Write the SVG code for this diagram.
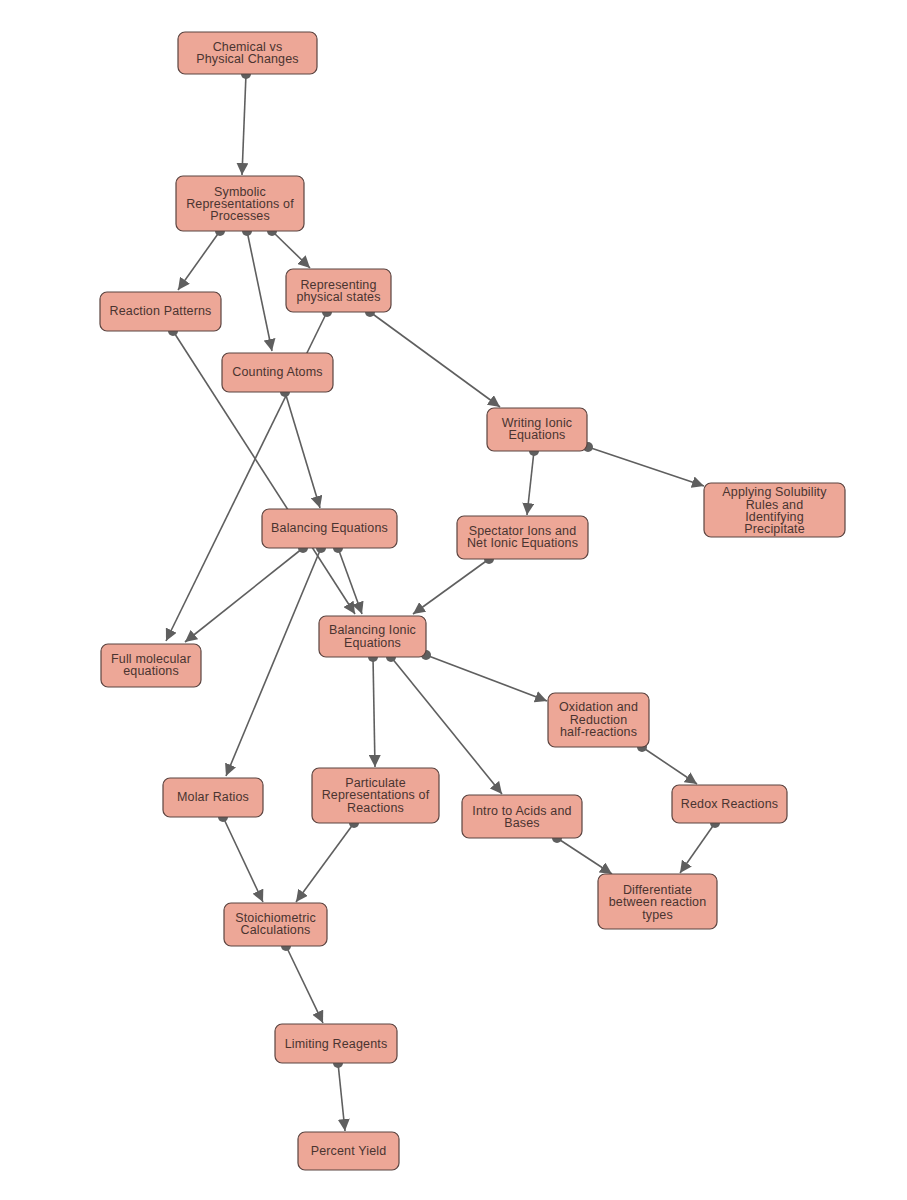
<svg xmlns="http://www.w3.org/2000/svg" width="907" height="1200" viewBox="0 0 907 1200">
<style>
.n rect{fill:#EDA797;stroke:#5b4440;stroke-width:1.2}
.n text{font-family:"Liberation Sans",Arial,sans-serif;font-size:12.5px;letter-spacing:0.15px;fill:#4a3430;text-anchor:middle}
.e line{stroke:#5f5f5f;stroke-width:1.6;marker-end:url(#ah)}
.e circle{fill:#5f5f5f}
</style>
<defs>
<marker id="ah" viewBox="0 0 10 10" refX="10" refY="5" markerUnits="userSpaceOnUse" markerWidth="12" markerHeight="12" orient="auto">
<path d="M0,0 L10,5 L0,10 z" fill="#5f5f5f"/>
</marker>
</defs>
<rect width="907" height="1200" fill="#ffffff"/>
<g id="connectors" class="e">
<line x1="246" y1="74" x2="242" y2="175"/><circle cx="246" cy="74" r="5"/>
<line x1="220" y1="231" x2="178" y2="290"/><circle cx="220" cy="231" r="5"/>
<line x1="247" y1="231" x2="272" y2="351"/><circle cx="247" cy="231" r="5"/>
<line x1="272" y1="231" x2="310" y2="268"/><circle cx="272" cy="231" r="5"/>
<line x1="173" y1="331" x2="355" y2="614"/><circle cx="173" cy="331" r="5"/>
<line x1="327" y1="312" x2="166" y2="641"/><circle cx="327" cy="312" r="5"/>
<line x1="370" y1="312" x2="500" y2="407"/><circle cx="370" cy="312" r="5"/>
<line x1="285" y1="392" x2="320" y2="508"/><circle cx="285" cy="392" r="5"/>
<line x1="534" y1="451" x2="527" y2="515"/><circle cx="534" cy="451" r="5"/>
<line x1="588" y1="447" x2="704" y2="486"/><circle cx="588" cy="447" r="5"/>
<line x1="489" y1="559" x2="413" y2="614"/><circle cx="489" cy="559" r="5"/>
<line x1="303" y1="548" x2="185" y2="642"/><circle cx="303" cy="548" r="5"/>
<line x1="321" y1="548" x2="226" y2="776"/><circle cx="321" cy="548" r="5"/>
<line x1="338" y1="548" x2="362" y2="614"/><circle cx="338" cy="548" r="5"/>
<line x1="373" y1="657" x2="375" y2="767"/><circle cx="373" cy="657" r="5"/>
<line x1="391" y1="657" x2="502" y2="794"/><circle cx="391" cy="657" r="5"/>
<line x1="426" y1="655" x2="547" y2="701"/><circle cx="426" cy="655" r="5"/>
<line x1="642" y1="747" x2="697" y2="784"/><circle cx="642" cy="747" r="5"/>
<line x1="223" y1="817" x2="263" y2="902"/><circle cx="223" cy="817" r="5"/>
<line x1="354" y1="823" x2="296" y2="902"/><circle cx="354" cy="823" r="5"/>
<line x1="557" y1="838" x2="612" y2="874"/><circle cx="557" cy="838" r="5"/>
<line x1="715" y1="823" x2="680" y2="873"/><circle cx="715" cy="823" r="5"/>
<line x1="286" y1="946" x2="323" y2="1023"/><circle cx="286" cy="946" r="5"/>
<line x1="338" y1="1063" x2="345" y2="1131"/><circle cx="338" cy="1063" r="5"/>
</g>
<g id="chem" class="n"><rect x="178" y="32" width="139" height="42" rx="7"/><text x="247.5" y="51">Chemical vs</text><text x="247.5" y="63">Physical Changes</text></g>
<g id="symb" class="n"><rect x="176" y="176" width="128" height="55" rx="7"/><text x="240" y="196">Symbolic</text><text x="240" y="208">Representations of</text><text x="240" y="220">Processes</text></g>
<g id="rp" class="n"><rect x="100" y="292" width="121" height="39" rx="7"/><text x="160.5" y="315">Reaction Patterns</text></g>
<g id="rps" class="n"><rect x="286" y="269" width="105" height="43" rx="7"/><text x="338.5" y="289">Representing</text><text x="338.5" y="301">physical states</text></g>
<g id="ca" class="n"><rect x="222" y="353" width="111" height="39" rx="7"/><text x="277.5" y="376">Counting Atoms</text></g>
<g id="wie" class="n"><rect x="487" y="408" width="100" height="43" rx="7"/><text x="537" y="427">Writing Ionic</text><text x="537" y="439">Equations</text></g>
<g id="asr" class="n"><rect x="704" y="483" width="141" height="54" rx="7"/><text x="774.5" y="496">Applying Solubility</text><text x="774.5" y="508.5">Rules and</text><text x="774.5" y="521">Identifying</text><text x="774.5" y="533">Precipitate</text></g>
<g id="sine" class="n"><rect x="457" y="516" width="131" height="43" rx="7"/><text x="522.5" y="535">Spectator Ions and</text><text x="522.5" y="547">Net Ionic Equations</text></g>
<g id="be" class="n"><rect x="262" y="509" width="135" height="39" rx="7"/><text x="329.5" y="532">Balancing Equations</text></g>
<g id="bie" class="n"><rect x="319" y="616" width="107" height="41" rx="7"/><text x="372.5" y="634">Balancing Ionic</text><text x="372.5" y="647">Equations</text></g>
<g id="fme" class="n"><rect x="101" y="644" width="100" height="43" rx="7"/><text x="151" y="663">Full molecular</text><text x="151" y="675">equations</text></g>
<g id="mr" class="n"><rect x="163" y="778" width="100" height="39" rx="7"/><text x="213" y="801">Molar Ratios</text></g>
<g id="prr" class="n"><rect x="312" y="768" width="127" height="55" rx="7"/><text x="375.5" y="787">Particulate</text><text x="375.5" y="799">Representations of</text><text x="375.5" y="812">Reactions</text></g>
<g id="stc" class="n"><rect x="224" y="903" width="103" height="43" rx="7"/><text x="275.5" y="922">Stoichiometric</text><text x="275.5" y="934">Calculations</text></g>
<g id="lr" class="n"><rect x="275" y="1024" width="122" height="39" rx="7"/><text x="336" y="1048">Limiting Reagents</text></g>
<g id="py" class="n"><rect x="298" y="1132" width="101" height="38" rx="7"/><text x="348.5" y="1155">Percent Yield</text></g>
<g id="orh" class="n"><rect x="548" y="693" width="101" height="54" rx="7"/><text x="598.5" y="711">Oxidation and</text><text x="598.5" y="724">Reduction</text><text x="598.5" y="736">half-reactions</text></g>
<g id="rr" class="n"><rect x="672" y="785" width="115" height="38" rx="7"/><text x="729.5" y="808">Redox Reactions</text></g>
<g id="iab" class="n"><rect x="462" y="795" width="120" height="43" rx="7"/><text x="522" y="815">Intro to Acids and</text><text x="522" y="827">Bases</text></g>
<g id="drt" class="n"><rect x="598" y="874" width="119" height="55" rx="7"/><text x="657.5" y="894">Differentiate</text><text x="657.5" y="906">between reaction</text><text x="657.5" y="919">types</text></g>
</svg>
